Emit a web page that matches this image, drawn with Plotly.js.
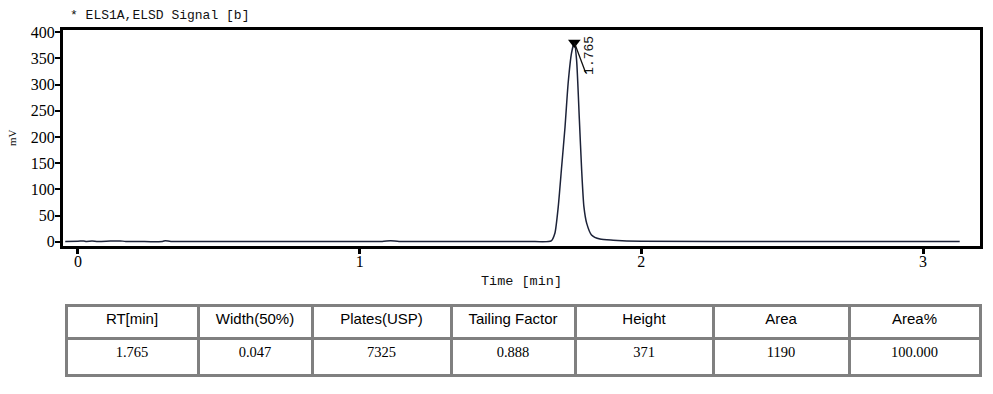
<!DOCTYPE html>
<html>
<head>
<meta charset="utf-8">
<script src="https://cdn.plot.ly/plotly-3.0.1.min.js"></script>
<style>html,body{margin:0;padding:0;background:#fff;}#chart{width:993px;height:394px;}</style>
</head>
<body>
<div id="chart"></div>
<script>
// Chromatogram signal (time in min, signal in mV)
const timeMin = [-0.045, 0.0, 0.02, 0.03, 0.05, 0.07, 0.10, 0.13, 0.15, 0.17, 0.30, 0.31, 0.33, 0.6, 0.9, 1.08, 1.11, 1.14, 1.4, 1.6, 1.68, 1.693, 1.705, 1.717, 1.729, 1.740, 1.752, 1.762, 1.770, 1.780, 1.788, 1.796, 1.806, 1.823, 1.853, 1.90, 2.0, 2.5, 3.0, 3.13];
const signalMV = [0.5, 0.8, 1.5, 0.6, 1.2, 0.5, 0.8, 1.4, 1.5, 0.6, 0.5, 1.8, 0.5, 0.5, 0.4, 0.5, 1.8, 0.5, 0.5, 0.6, 1.5, 16, 67, 143, 219, 302, 360, 380, 347, 232, 137, 67, 35, 13, 5, 3, 1, 0.4, 0.3, 0.3];

// Peak marker
const peakRT = [1.762];
const peakApex = [380];
const peakLabel = ["1.765"];

// Axis ticks
const xTicks = [0, 1, 2, 3];
const yTicks = [0, 50, 100, 150, 200, 250, 300, 350, 400];

// Results table
const tableHeaders = ["RT[min]", "Width(50%)", "Plates(USP)", "Tailing Factor", "Height", "Area", "Area%"];
const tableValues = ["1.765", "0.047", "7325", "0.888", "371", "1190", "100.000"];
const columnWidths = [132, 114, 139, 124, 138, 136, 131];

const W = 993, H = 394;
const mL = 63, mR = 13, mT = 30, mB = 14;
const plotH = H - mT - mB;
const axisBottomPx = 246;
const yDomain0 = (H - mB - axisBottomPx) / plotH;
const tableTopPx = 305;
const tableTop = (H - mB - tableTopPx) / plotH;

const traces = [
  {
    type: 'scatter', mode: 'lines', x: timeMin, y: signalMV,
    line: {color: '#1c2238', width: 1.5, shape: 'spline', smoothing: 0.6},
    xaxis: 'x', yaxis: 'y', hoverinfo: 'skip'
  },
  {
    type: 'scatter', mode: 'markers', x: peakRT, y: peakApex,
    marker: {symbol: 'triangle-down', size: 11, color: '#000'},
    xaxis: 'x', yaxis: 'y', hoverinfo: 'skip'
  },
  {
    type: 'table',
    domain: {x: [(66 - mL) / (W - mL - mR), 1], y: [0, tableTop]},
    columnwidth: columnWidths,
    header: {
      values: tableHeaders.map(s => [s]),
      align: 'center', height: 33,
      line: {color: '#808080', width: 3},
      fill: {color: '#fff'},
      font: {family: 'Liberation Sans, Arial', size: 15, color: '#000'}
    },
    cells: {
      values: tableValues.map(s => [s]),
      align: 'center', height: 37,
      line: {color: '#808080', width: 3},
      fill: {color: '#fff'},
      font: {family: 'Liberation Serif, Times New Roman', size: 14.5, color: '#000'}
    }
  }
];

const tickFont = {family: 'Liberation Serif, Times New Roman', size: 16, color: '#000'};

const layout = {
  width: W, height: H,
  margin: {l: mL, r: mR, t: mT, b: mB},
  paper_bgcolor: '#fff', plot_bgcolor: '#fff',
  showlegend: false,
  xaxis: {
    domain: [0, 1], anchor: 'y',
    range: [-0.053, 3.202], tickvals: xTicks, ticktext: xTicks.map(String),
    showgrid: false, zeroline: false,
    showline: true, mirror: true, linecolor: '#000', linewidth: 3,
    ticks: 'outside', ticklen: 5, tickwidth: 3, tickcolor: '#000',
    ticklabelstandoff: -6,
    tickfont: tickFont
  },
  yaxis: {
    domain: [yDomain0, 1], anchor: 'x',
    range: [-8.2, 404], tickvals: yTicks, ticktext: yTicks.map(String),
    showgrid: false, zeroline: false,
    showline: true, mirror: true, linecolor: '#000', linewidth: 3,
    ticks: 'outside', ticklen: 5, tickwidth: 2, tickcolor: '#000',
    ticklabelstandoff: -3,
    tickfont: tickFont
  },
  annotations: [
    {text: '* ELS1A,ELSD Signal [b]', xref: 'paper', yref: 'paper', x: (68 - mL) / (W - mL - mR), y: 1, xanchor: 'left', yanchor: 'bottom', yshift: 5, showarrow: false,
     font: {family: 'Liberation Mono, DejaVu Sans Mono', size: 13, color: '#111'}},
    {text: 'Time [min]', xref: 'paper', yref: 'paper', x: 0.5, y: yDomain0, xanchor: 'center', yanchor: 'top', yshift: -26, showarrow: false,
     font: {family: 'Liberation Mono, DejaVu Sans Mono', size: 13.5, color: '#111'}},
    {text: 'mV', xref: 'paper', yref: 'paper', x: 0, y: (yDomain0 + 1) / 2, xanchor: 'center', yanchor: 'middle', xshift: -51, textangle: -90, showarrow: false,
     font: {family: 'Liberation Serif, Times New Roman', size: 11, color: '#111'}},
    {text: '', x: peakRT[0], y: peakApex[0], xref: 'x', yref: 'y', showarrow: true, arrowhead: 0, arrowwidth: 1.3, arrowcolor: '#111', ax: 12, ay: 32},
    {text: peakLabel[0], x: peakRT[0], y: peakApex[0], xref: 'x', yref: 'y', showarrow: false, textangle: -90, xshift: 15, yshift: -13,
     font: {family: 'Liberation Mono, DejaVu Sans Mono', size: 13, color: '#111'}}
  ]
};

Plotly.newPlot('chart', traces, layout, {displayModeBar: false, staticPlot: true});
</script>
</body>
</html>
